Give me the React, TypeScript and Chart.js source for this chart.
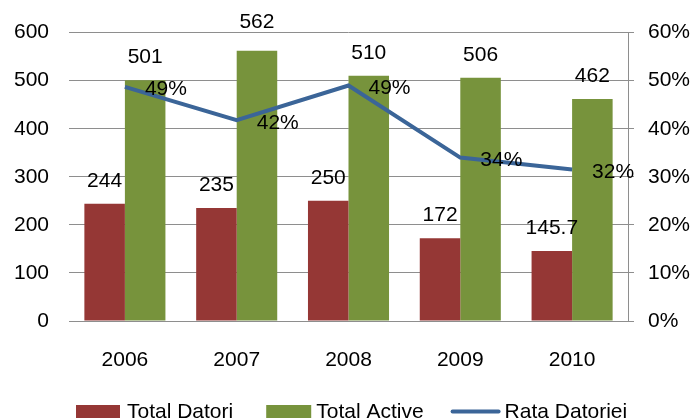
import React, { useEffect, useRef } from "react";
import { Chart, registerables } from "chart.js";

Chart.register(...registerables);

const categories = ["2006", "2007", "2008", "2009", "2010"];
const totalDatori = [244, 235, 250, 172, 145.7];
const totalActive = [501, 562, 510, 506, 462];
const rataDatoriei = [48.7, 41.8, 49.0, 34.0, 31.5];
const seriesNames = ["Total Datori", "Total Active", "Rata Datoriei"];
const leftAxis = { min: 0, max: 600, step: 100 };
const rightAxis = { min: 0, max: 60, step: 10 };

const FONT = '"Liberation Sans", Arial, sans-serif';
const RED = "#953735";
const GREEN = "#77933C";
const BLUE = "#3B6598";
const GRID = "#8E8E8E";

const valueLabels = {
  id: "valueLabels",
  afterDatasetsDraw(chart: any) {
    const ctx = chart.ctx;
    ctx.save();
    ctx.font = `21px ${FONT}`;
    ctx.fillStyle = "#000";
    chart.data.datasets.forEach((ds: any, i: number) => {
      const meta = chart.getDatasetMeta(i);
      meta.data.forEach((el: any, j: number) => {
        const v = ds.data[j];
        ctx.textBaseline = "alphabetic";
        if (ds.type === "line") {
          ctx.textAlign = "left";
          ctx.fillText(Math.round(v) + "%", el.x + 20, el.y + 8.5);
        } else {
          ctx.textAlign = "center";
          let y = el.y - 17;
          // keep labels that would sit on the top gridline clear of the plot edge
          if (y - 15 < chart.chartArea.top - 5) y = Math.min(y, chart.chartArea.top - 5);
          ctx.fillText(String(v), el.x, y);
        }
      });
    });
    ctx.restore();
  },
};

const customLegend = {
  id: "customLegend",
  afterDraw(chart: any) {
    const ctx = chart.ctx;
    ctx.save();
    ctx.font = `21px ${FONT}`;
    ctx.textAlign = "left";
    ctx.textBaseline = "alphabetic";
    let x = 76;
    const symY = 411.5;
    const items = [
      { name: seriesNames[0], color: RED, kind: "box", w: 44, gap: 7, after: 33 },
      { name: seriesNames[1], color: GREEN, kind: "box", w: 45, gap: 5, after: 27 },
      { name: seriesNames[2], color: BLUE, kind: "line", w: 50, gap: 4, after: 0 },
    ];
    items.forEach((it) => {
      if (it.kind === "box") {
        ctx.fillStyle = it.color;
        ctx.fillRect(x, symY - 6.5, it.w, 13);
      } else {
        ctx.strokeStyle = it.color;
        ctx.lineWidth = 4;
        ctx.lineCap = "round";
        ctx.beginPath();
        ctx.moveTo(x + 2, symY);
        ctx.lineTo(x + it.w - 2, symY);
        ctx.stroke();
      }
      x += it.w + it.gap;
      ctx.fillStyle = "#000";
      ctx.fillText(it.name, x, 418);
      x += ctx.measureText(it.name).width + it.after;
    });
    ctx.restore();
  },
};

export default function App() {
  const ref = useRef<HTMLCanvasElement>(null);
  useEffect(() => {
    if (!ref.current) return;
    Chart.defaults.font.family = FONT;
    const chart = new Chart(ref.current, {
      type: "bar",
      data: {
        labels: categories,
        datasets: [
          {
            type: "bar",
            label: seriesNames[0],
            data: totalDatori,
            backgroundColor: RED,
            yAxisID: "y",
            order: 1,
          },
          {
            type: "bar",
            label: seriesNames[1],
            data: totalActive,
            backgroundColor: GREEN,
            yAxisID: "y",
            order: 1,
          },
          {
            type: "line",
            label: seriesNames[2],
            data: rataDatoriei,
            borderColor: BLUE,
            backgroundColor: BLUE,
            borderWidth: 4,
            pointRadius: 0,
            tension: 0,
            yAxisID: "y1",
            order: 0,
          } as any,
        ],
      },
      options: {
        responsive: false,
        animation: false,
        layout: { padding: { top: 32, left: 0, right: 0, bottom: 49 } },
        datasets: {
          bar: { categoryPercentage: 0.725, barPercentage: 1.0 },
        } as any,
        plugins: {
          legend: { display: false },
          tooltip: { enabled: false },
        },
        scales: {
          x: {
            grid: { display: false, drawTicks: false },
            border: { display: true, color: GRID, width: 1 },
            ticks: { color: "#000", font: { size: 21 }, padding: 27 },
            afterFit(scale: any) {
              scale.height = 60;
            },
          },
          y: {
            position: "left",
            min: leftAxis.min,
            max: leftAxis.max,
            grid: { color: GRID, drawTicks: false },
            border: { display: false },
            ticks: { stepSize: leftAxis.step, color: "#000", font: { size: 21 }, padding: 20 },
            afterFit(scale: any) {
              scale.width = 69;
            },
          },
          y1: {
            position: "right",
            min: rightAxis.min,
            max: rightAxis.max,
            grid: { drawOnChartArea: false, color: GRID, drawTicks: true, tickLength: 6 },
            border: { display: true, color: GRID },
            ticks: {
              stepSize: rightAxis.step,
              color: "#000",
              font: { size: 21 },
              padding: 14,
              callback: (v: any) => v + "%",
            },
            afterFit(scale: any) {
              scale.width = 62;
            },
          },
        },
      },
      plugins: [valueLabels, customLegend],
    });
    return () => chart.destroy();
  }, []);
  return (
    <div style={{ position: "fixed", left: 0, top: 0, width: 690, height: 430, background: "#fff" }}>
      <canvas ref={ref} width={690} height={430} style={{ width: 690, height: 430, display: "block" }} />
    </div>
  );
}
